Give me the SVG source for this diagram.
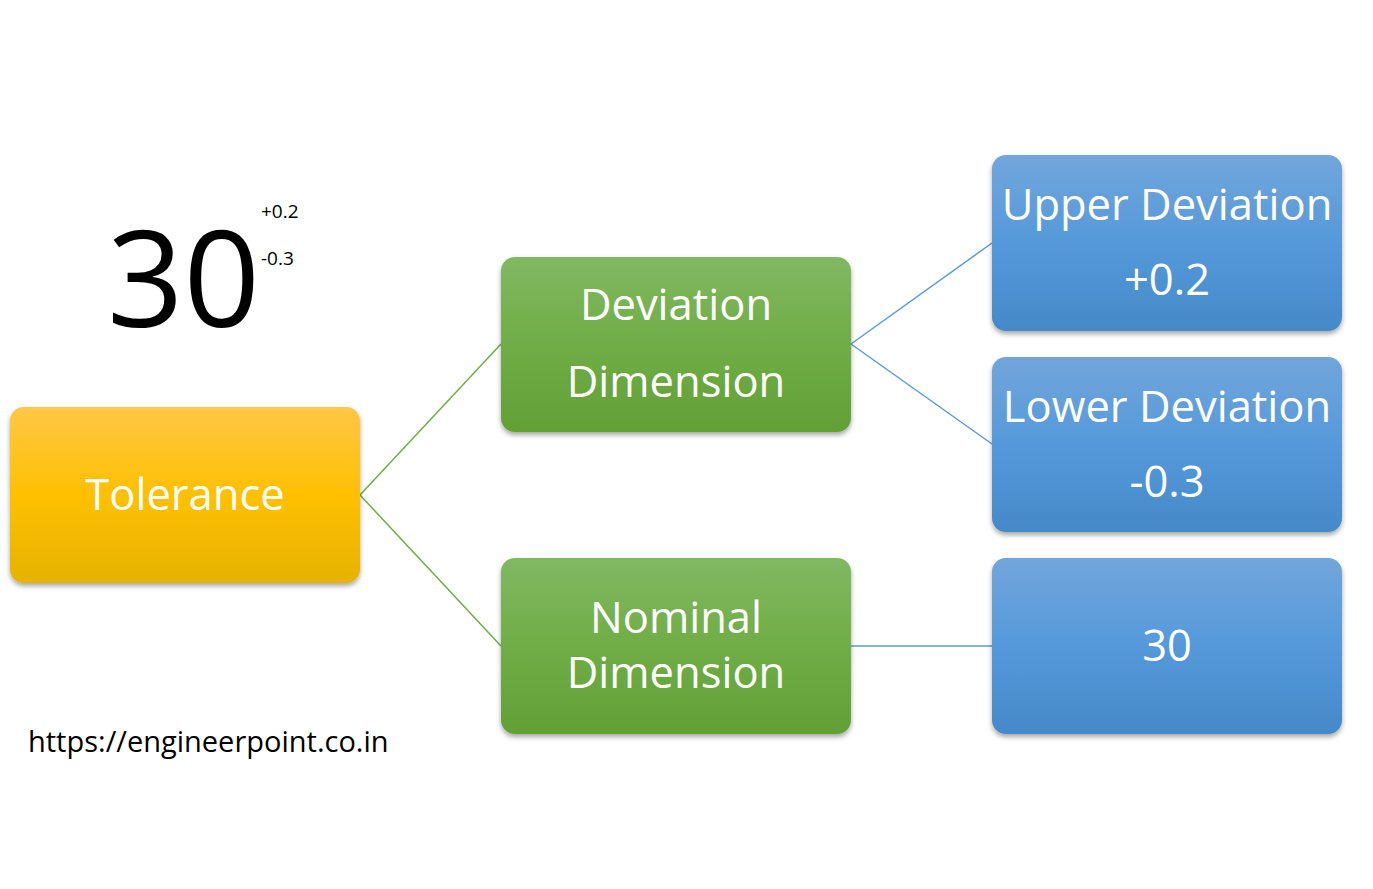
<svg xmlns="http://www.w3.org/2000/svg" width="1373" height="889" viewBox="0 0 1373 889">
<defs>
<linearGradient id="gOrange" x1="0" y1="0" x2="0" y2="1">
<stop offset="0" stop-color="#FFC746"/>
<stop offset="0.5" stop-color="#FFC000"/>
<stop offset="1" stop-color="#E5B300"/>
</linearGradient>
<linearGradient id="gGreen" x1="0" y1="0" x2="0" y2="1">
<stop offset="0" stop-color="#81B862"/>
<stop offset="0.5" stop-color="#70AD47"/>
<stop offset="1" stop-color="#62A035"/>
</linearGradient>
<linearGradient id="gBlue" x1="0" y1="0" x2="0" y2="1">
<stop offset="0" stop-color="#72A6DB"/>
<stop offset="0.5" stop-color="#5599DA"/>
<stop offset="1" stop-color="#4589C8"/>
</linearGradient>
<filter id="shadow" x="-10%" y="-10%" width="120%" height="130%">
<feDropShadow dx="0" dy="3" stdDeviation="2.5" flood-color="#000" flood-opacity="0.35"/>
</filter>
<style>
.box { filter: url(#shadow); }
.lbl { font-family: "Open Sans", "Noto Sans", sans-serif; fill: #FFFFFF; text-anchor: middle; font-size: 43.5px; }
.g-line { stroke: #70AD47; stroke-width: 1.5; fill: none; }
.b-line { stroke: #5B9BD5; stroke-width: 1.5; fill: none; }
.blk { font-family: "Open Sans", "Noto Sans", sans-serif; fill: #000; }
</style>
</defs>
<rect width="1373" height="889" fill="#FFFFFF"/>

<g id="connectors">
<line class="g-line" x1="360" y1="495" x2="501" y2="344"/>
<line class="g-line" x1="360" y1="495" x2="501" y2="646"/>
<line class="b-line" x1="851" y1="344" x2="992" y2="243"/>
<line class="b-line" x1="851" y1="344" x2="992" y2="444"/>
<line class="b-line" x1="851" y1="646" x2="992" y2="646"/>
</g>

<g id="tolerance">
<rect class="box" x="10" y="407" width="350" height="176" rx="14" fill="url(#gOrange)"/>
<text class="lbl" x="185" y="510" font-size="42.5">Tolerance</text>
</g>

<g id="deviation-dimension">
<rect class="box" x="501" y="257" width="350" height="175" rx="14" fill="url(#gGreen)"/>
<text class="lbl" x="676" y="320">Deviation</text>
<text class="lbl" x="676" y="397">Dimension</text>
</g>

<g id="nominal-dimension">
<rect class="box" x="501" y="558" width="350" height="176" rx="14" fill="url(#gGreen)"/>
<text class="lbl" x="676" y="633">Nominal</text>
<text class="lbl" x="676" y="688">Dimension</text>
</g>

<g id="upper-deviation">
<rect class="box" x="992" y="155" width="350" height="176" rx="14" fill="url(#gBlue)"/>
<text class="lbl" x="1167" y="220">Upper Deviation</text>
<text class="lbl" x="1167" y="295">+0.2</text>
</g>

<g id="lower-deviation">
<rect class="box" x="992" y="357" width="350" height="175" rx="14" fill="url(#gBlue)"/>
<text class="lbl" x="1167" y="422">Lower Deviation</text>
<text class="lbl" x="1167" y="497">-0.3</text>
</g>

<g id="nominal-value">
<rect class="box" x="992" y="558" width="350" height="176" rx="14" fill="url(#gBlue)"/>
<text class="lbl" x="1167" y="661">30</text>
</g>

<g id="example">
<text class="blk" x="107" y="327" font-size="134">30</text>
<text class="blk" x="261" y="218" font-size="19">+0.2</text>
<text class="blk" x="261" y="265" font-size="19">-0.3</text>
</g>

<text class="blk" x="28" y="752" font-size="29">https://engineerpoint.co.in</text>
</svg>
